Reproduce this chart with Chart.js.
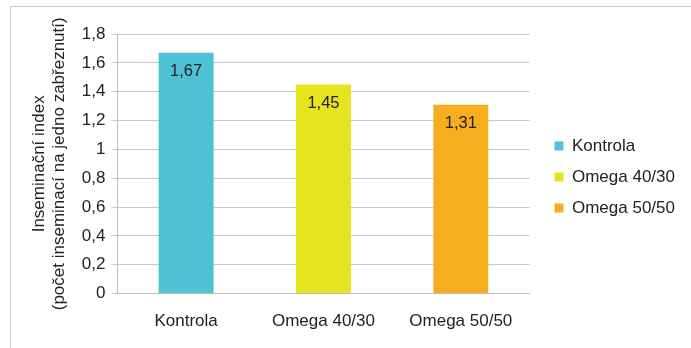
<!DOCTYPE html>
<html><head><meta charset="utf-8">
<script src="https://cdn.jsdelivr.net/npm/chart.js@4/dist/chart.umd.min.js"></script>
<style>
html,body{margin:0;padding:0;background:#fff;}
#wrap{position:absolute;left:0;top:0;width:691px;height:348px;}
#frame{position:absolute;left:10px;top:6px;width:680px;height:345px;border-left:1px solid #c9c9c9;border-top:1px solid #c9c9c9;}
</style></head>
<body>
<div id="wrap"><div id="frame"></div><canvas id="c" width="691" height="348"></canvas></div>
<script>
const categories = ["Kontrola", "Omega 40/30", "Omega 50/50"];
const values = [1.67, 1.45, 1.31];
const valueLabels = ["1,67", "1,45", "1,31"];
const colors = ["#4fc3d4", "#e6e31f", "#f6ae1f"];
const yTitle = ["Inseminační index", "(počet inseminací na jedno zabřeznutí)"];

const FONT = "'Liberation Sans', Arial, sans-serif";
const FS = 17;
const datasets = categories.map((c, i) => ({
  label: c,
  data: categories.map((_, j) => j === i ? values[i] : null),
  backgroundColor: colors[i],
  borderWidth: 0,
  grouped: false,
  categoryPercentage: 1,
  barPercentage: 0.4
}));

const labelPlugin = {
  id: 'vlabels',
  afterLayout(chart) {
    const lg = chart.legend;
    if (lg) { lg.left += 11; lg.right += 11; lg.top -= 11; lg.bottom -= 11; }
  },
  afterDatasetsDraw(chart) {
    const ctx = chart.ctx;
    ctx.save();
    ctx.font = "16.5px " + FONT;
    ctx.fillStyle = "#222";
    ctx.textAlign = "center";
    ctx.textBaseline = "middle";
    chart.data.datasets.forEach((ds, i) => {
      const meta = chart.getDatasetMeta(i);
      const el = meta.data[i];
      ctx.fillText(valueLabels[i], el.x, el.y + 19);
    });
    ctx.restore();
  }
};

new Chart(document.getElementById('c'), {
  type: 'bar',
  data: { labels: categories, datasets },
  options: {
    responsive: false,
    animation: false,
    layout: { padding: { left: 23, right: 17, top: 34, bottom: 6 } },
    plugins: {
      legend: {
        position: 'right',
        labels: { boxWidth: 9, boxHeight: 9, padding: 14, color: "#222", font: { size: FS, family: FONT } }
      },
      tooltip: { enabled: false }
    },
    scales: {
      x: {
        grid: { display: false },
        border: { color: "#bdbdbd" },
        ticks: { color: "#222", font: { size: FS, family: FONT }, padding: 10 }
      },
      y: {
        min: 0, max: 1.8,
        ticks: { stepSize: 0.2, color: "#222", font: { size: FS, family: FONT }, padding: 6,
          callback: v => String(Math.round(v * 10) / 10).replace('.', ',') },
        grid: { color: "#c8c8c8", tickLength: 6 },
        border: { color: "#bdbdbd" },
        title: { display: true, text: yTitle, color: "#222", font: { size: FS, family: FONT, lineHeight: 1.2 }, padding: 6 }
      }
    }
  },
  plugins: [labelPlugin]
});
</script>
</body></html>
